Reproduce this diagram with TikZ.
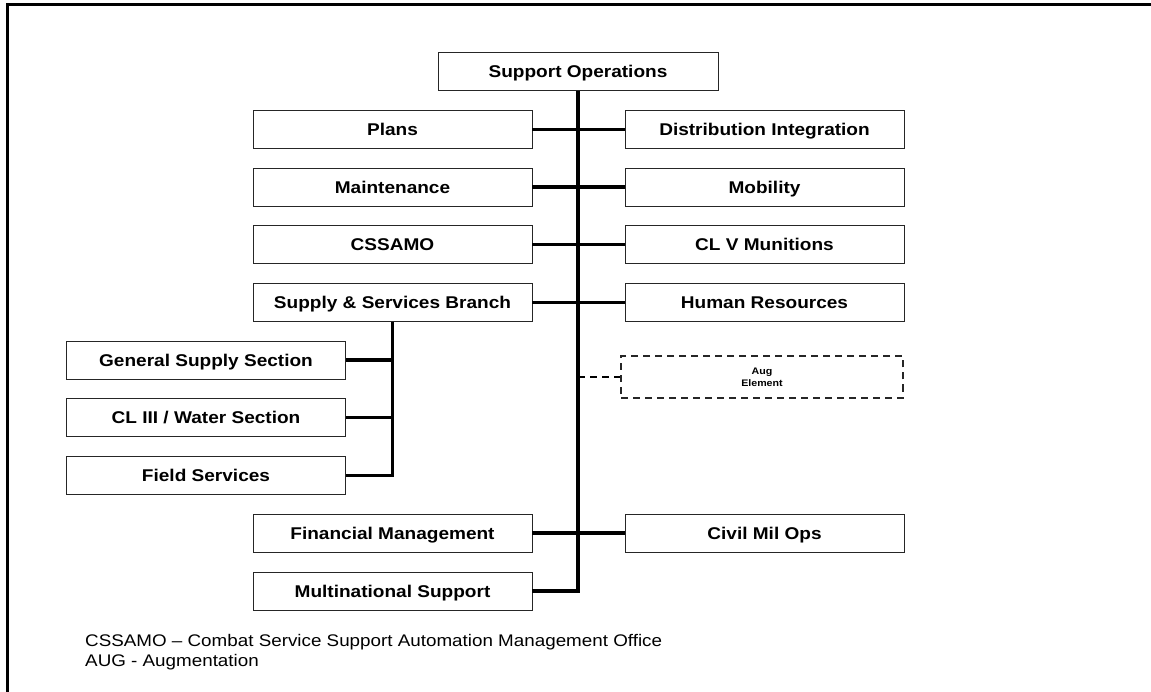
\documentclass[tikz,border=0pt]{standalone}
\usepackage{fontspec}
\setmainfont{Liberation Sans}[FakeStretch=1.12]
\begin{document}
\begin{tikzpicture}[x=1pt,y=-1pt,
  box/.style={draw=black!85, line width=0.9pt, minimum width=279pt, minimum height=38pt,
    inner sep=0pt, text height=12.2pt, text depth=0pt,
    font=\fontsize{17}{20}\selectfont\bfseries},
  augbox/.style={draw=black!85, line width=2pt, dash pattern=on 7pt off 5pt,
    minimum width=282pt, minimum height=41pt, inner sep=0pt, align=center,
    font=\fontsize{9.5}{12}\selectfont\bfseries},
  conn/.style={line width=3.5pt},
  dconn/.style={line width=2pt, dash pattern=on 7pt off 5pt},
  note/.style={anchor=west, inner sep=0pt, font=\fontsize{16.8}{20}\selectfont},
  frame/.style={line width=3pt}
]
\useasboundingbox (0,0) rectangle (1151,692);
\draw[frame] (7.5,692) -- (7.5,4.5) -- (1151,4.5);

\node[box, minimum width=280pt] (so) at (578,71.5) {Support Operations};

\node[box] (plans) at (392.5,129.5) {Plans};
\node[box] (maint) at (392.5,187) {Maintenance};
\node[box] (cssamo) at (392.5,244.5) {CSSAMO};
\node[box] (supply) at (392.5,302.5) {Supply \& Services Branch};

\node[box] (dist) at (764.5,129.5) {Distribution Integration};
\node[box] (mob) at (764.5,187) {Mobility};
\node[box] (clv) at (764.5,244.5) {CL V Munitions};
\node[box] (hr) at (764.5,302.5) {Human Resources};

\node[box] (gen) at (206,360) {General Supply Section};
\node[box] (cl3) at (206,417.5) {CL III / Water Section};
\node[box] (field) at (206,475.5) {Field Services};

\node[augbox] (aug) at (762,377) {Aug\\Element};

\node[box] (fin) at (392.5,533) {Financial Management};
\node[box] (multi) at (392.5,591) {Multinational Support};
\node[box] (civil) at (764.5,533) {Civil Mil Ops};

% main trunk
\draw[conn] (so.south) |- (multi.east);
\draw[conn] (plans.east) -- (dist.west);
\draw[conn] (maint.east) -- (mob.west);
\draw[conn] (cssamo.east) -- (clv.west);
\draw[conn] (supply.east) -- (hr.west);
\draw[conn] (fin.east) -- (civil.west);
\draw[dconn] (aug.west -| so.south) -- (aug.west);

% sub trunk
\draw[conn] (supply.south) |- (field.east);
\draw[conn] (gen.east) -- (gen.east -| supply.south);
\draw[conn] (cl3.east) -- (cl3.east -| supply.south);

\node[note] (n1) at (85,642) {CSSAMO – Combat Service Support Automation Management Office};
\node[note] (n2) at (85,662) {AUG - Augmentation};
\end{tikzpicture}
\end{document}
